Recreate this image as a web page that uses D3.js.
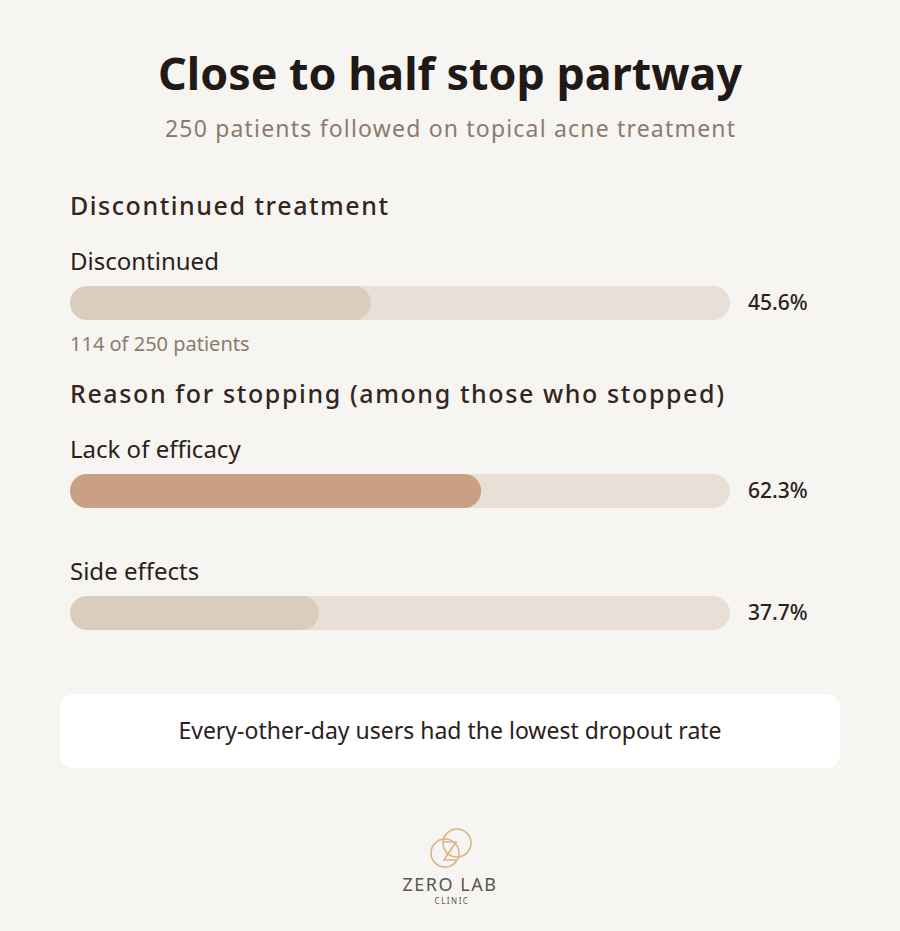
<!DOCTYPE html><html><head><meta charset="utf-8">
<script src="https://cdn.jsdelivr.net/npm/d3@7"></script>
<style>body{margin:0;background:#f7f5f1}svg{display:block;font-family:"Noto Sans",sans-serif}</style></head><body>
<svg id="c" width="900" height="931"></svg>
<script>
const categories=["Discontinued","Lack of efficacy","Side effects"];
const values=[45.6,62.3,37.7];
const highlight=[false,true,false];
const title="Close to half stop partway";
const subtitle="250 patients followed on topical acne treatment";
const svg=d3.select("#c");
svg.append("rect").attr("width",900).attr("height",931).attr("fill","#f7f5f1");
const x=d3.scaleLinear().domain([0,100]).range([70,730]);
svg.append("text").attr("x",450).attr("y",90).attr("text-anchor","middle").attr("font-size",44).attr("font-weight",700).attr("fill","#1f1a17").attr("textLength",584).attr("lengthAdjust","spacingAndGlyphs").text(title);
svg.append("text").attr("x",450).attr("y",137).attr("text-anchor","middle").attr("font-size",23).attr("fill","#8c7b6e").attr("textLength",570).text(subtitle);
const heads=[["Discontinued treatment",215,318],["Reason for stopping (among those who stopped)",403,654]];
heads.forEach(h=>svg.append("text").attr("x",70).attr("y",h[1]).attr("font-size",25).attr("font-weight",500).attr("fill","#33261f").attr("textLength",h[2]).text(h[0]));
const barY=[286,474,596], h=34;
categories.forEach((c,i)=>{
 const y=barY[i];
 svg.append("text").attr("x",70).attr("y",y-16).attr("font-size",24).attr("fill","#2b211c").text(c);
 svg.append("rect").attr("x",x(0)).attr("y",y).attr("width",x(100)-x(0)).attr("height",h).attr("rx",h/2).attr("fill","#e8dfd6");
 svg.append("rect").attr("x",x(0)).attr("y",y).attr("width",x(values[i])-x(0)).attr("height",h).attr("rx",h/2).attr("fill",highlight[i]?"#c9a084":"#dbcdbd");
 svg.append("text").attr("x",748).attr("y",y+h/2).attr("dy","0.35em").attr("font-size",21).attr("font-weight",500).attr("fill","#2b211c").text(values[i].toFixed(1)+"%");
});
svg.append("text").attr("x",70).attr("y",351).attr("font-size",20).attr("fill","#8c7b6e").text("114 of 250 patients");
svg.append("rect").attr("x",60).attr("y",694).attr("width",780).attr("height",74).attr("rx",14).attr("fill","#ffffff");
svg.append("text").attr("x",450).attr("y",731).attr("dy","0.35em").attr("text-anchor","middle").attr("font-size",23).attr("fill","#2b211c").text("Every-other-day users had the lowest dropout rate");
const g=svg.append("g").attr("fill","none").attr("stroke","#d9b48a").attr("stroke-width",1.6);
g.append("circle").attr("cx",445).attr("cy",853).attr("r",14);
g.append("circle").attr("cx",457).attr("cy",843).attr("r",14);
g.append("path").attr("d","M444 842 H456 L444 860 H456");
svg.append("text").attr("x",450).attr("y",891).attr("text-anchor","middle").attr("font-size",18).attr("letter-spacing",1.5).attr("fill","#5a5552").text("ZERO LAB");
svg.append("text").attr("x",452).attr("y",904).attr("text-anchor","middle").attr("font-size",8).attr("letter-spacing",1.5).attr("fill","#5a5552").text("CLINIC");
</script></body></html>
